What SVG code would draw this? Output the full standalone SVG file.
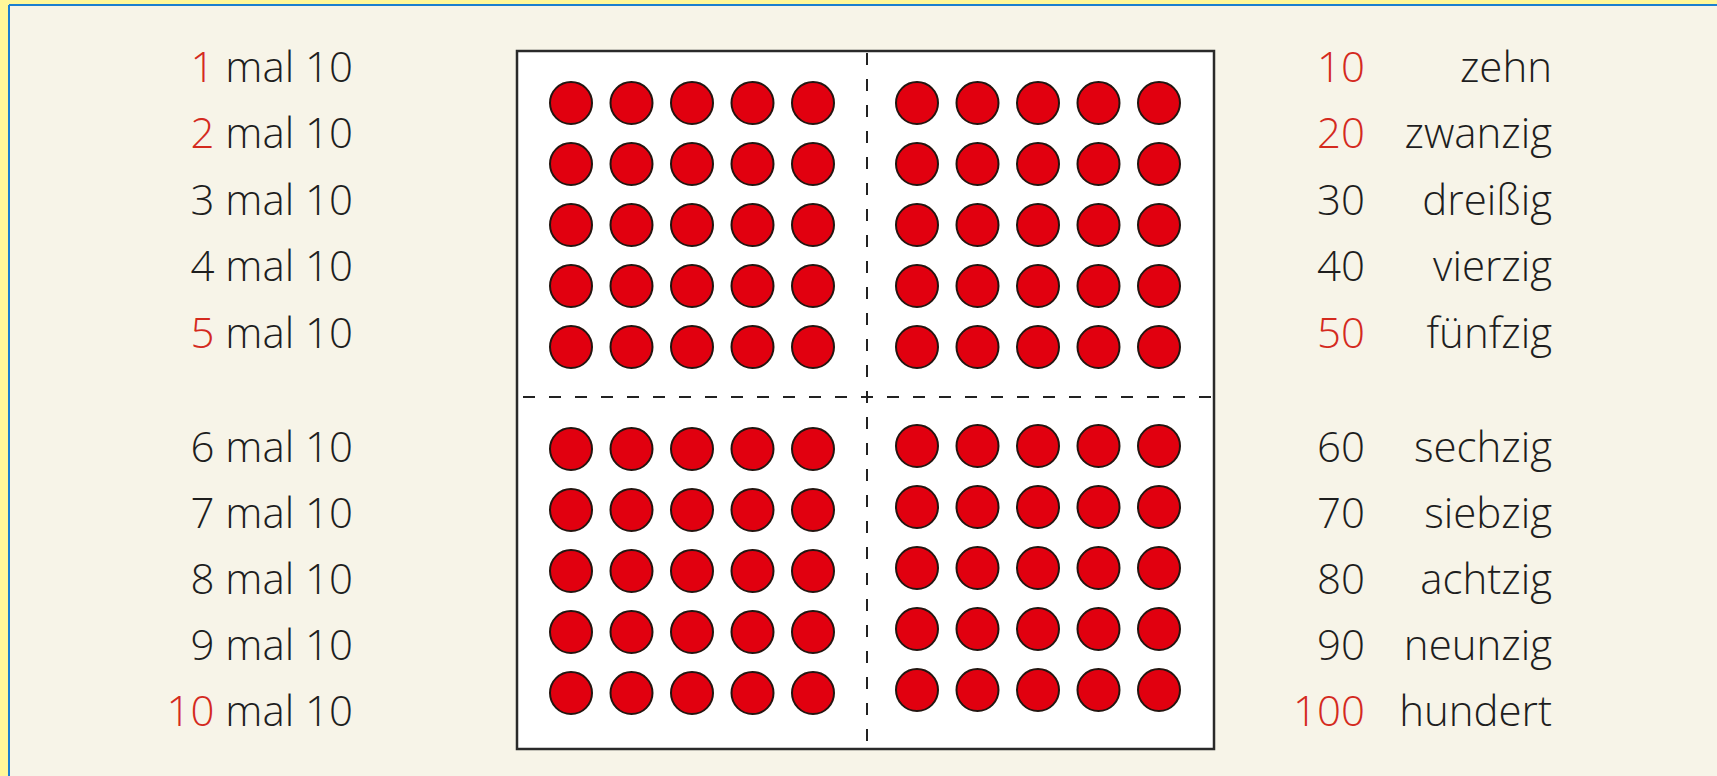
<svg xmlns="http://www.w3.org/2000/svg" width="1717" height="776" viewBox="0 0 1717 776">
<style>
.t{font-family:"Open Sans","Noto Sans","Liberation Sans",sans-serif;font-size:42px;font-weight:350;fill:#1e1e1e;}
.r{fill:#d42a1e;}
.e{text-anchor:end;}
.d{fill:#e1000f;stroke:#231510;stroke-width:2;}
.dash{stroke:#222;stroke-width:2;stroke-dasharray:12 14;fill:none;}
</style>
<defs>
<g id="q">
<circle class="d" cx="0" cy="0" r="21"/><circle class="d" cx="60.5" cy="0" r="21"/><circle class="d" cx="121" cy="0" r="21"/><circle class="d" cx="181.5" cy="0" r="21"/><circle class="d" cx="242" cy="0" r="21"/>
</g>
<g id="quad">
<use href="#q" y="0"/><use href="#q" y="61"/><use href="#q" y="122"/><use href="#q" y="183"/><use href="#q" y="244"/>
</g>
</defs>
<rect x="0" y="0" width="1717" height="776" fill="#fff799"/>
<rect x="9" y="5" width="1708" height="771" fill="#f7f4e8"/>
<line x1="9" y1="5" x2="1717" y2="5" stroke="#1b7fd0" stroke-width="2"/>
<line x1="9" y1="5" x2="9" y2="776" stroke="#1b7fd0" stroke-width="2"/>

<g id="board">
<rect x="517" y="51" width="697" height="698" fill="#ffffff" stroke="#2a2a2a" stroke-width="2.5"/>
<g id="connectors">
<line class="dash" x1="867" y1="53" x2="867" y2="749"/>
<line class="dash" x1="523" y1="397" x2="1213" y2="397"/>
</g>
<use href="#quad" x="571" y="103"/>
<use href="#quad" x="917" y="103"/>
<use href="#quad" x="571" y="449"/>
<use href="#quad" x="917" y="446"/>
</g>

<g id="left-labels">
<text x="353" y="82" class="t e"><tspan class="r">1</tspan> mal 10</text>
<text x="353" y="148" class="t e"><tspan class="r">2</tspan> mal 10</text>
<text x="353" y="215" class="t e">3 mal 10</text>
<text x="353" y="281" class="t e">4 mal 10</text>
<text x="353" y="348" class="t e"><tspan class="r">5</tspan> mal 10</text>
<text x="353" y="462" class="t e">6 mal 10</text>
<text x="353" y="528" class="t e">7 mal 10</text>
<text x="353" y="594" class="t e">8 mal 10</text>
<text x="353" y="660" class="t e">9 mal 10</text>
<text x="353" y="726" class="t e"><tspan class="r">10</tspan> mal 10</text>
</g>

<g id="numbers">
<text x="1365" y="82" class="t e r">10</text>
<text x="1365" y="148" class="t e r">20</text>
<text x="1365" y="215" class="t e">30</text>
<text x="1365" y="281" class="t e">40</text>
<text x="1365" y="348" class="t e r">50</text>
<text x="1365" y="462" class="t e">60</text>
<text x="1365" y="528" class="t e">70</text>
<text x="1365" y="594" class="t e">80</text>
<text x="1365" y="660" class="t e">90</text>
<text x="1365" y="726" class="t e r">100</text>
</g>

<g id="words">
<text x="1552" y="82" class="t e">zehn</text>
<text x="1552" y="148" class="t e">zwanzig</text>
<text x="1552" y="215" class="t e">dreißig</text>
<text x="1552" y="281" class="t e">vierzig</text>
<text x="1552" y="348" class="t e">fünfzig</text>
<text x="1552" y="462" class="t e">sechzig</text>
<text x="1552" y="528" class="t e">siebzig</text>
<text x="1552" y="594" class="t e">achtzig</text>
<text x="1552" y="660" class="t e">neunzig</text>
<text x="1552" y="726" class="t e">hundert</text>
</g>
</svg>
